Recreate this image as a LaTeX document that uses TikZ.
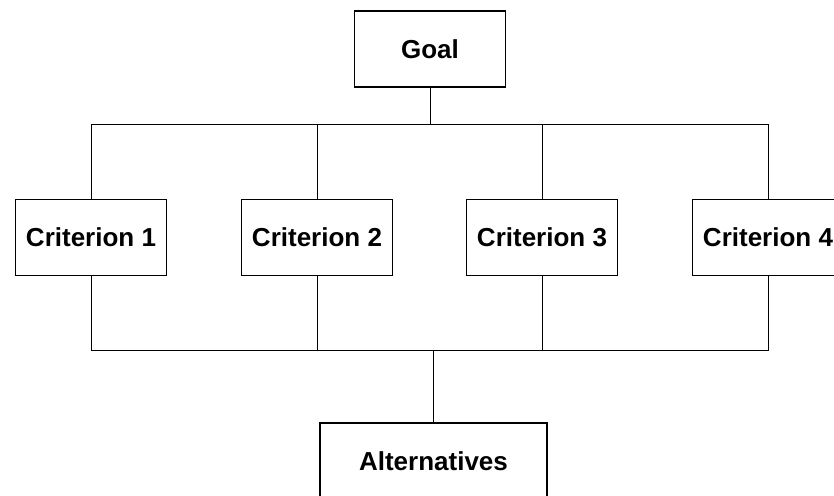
\documentclass[tikz,border=0pt]{standalone}
\usepackage{fontspec}
\setmainfont{Liberation Sans}

\begin{document}
\begin{tikzpicture}
[x=1pt,y=-1pt,
  lineDecorate/.style={-,line width=0.7pt},%
  boxDecorate/.style={shape=rectangle,draw,line width=1.2pt,fill=white,inner sep=0pt,
    minimum width=151pt,minimum height=76pt,font=\bfseries\fontsize{26}{30}\selectfont}]
\clip (0,0) rectangle (834,495);
%% boxes
\node (goal) at (430,49) [boxDecorate] {Goal};
\foreach \nodename/\x/\num in {
  crit1/91/1, crit2/317/2, crit3/542/3, crit4/768/4}
{
  \node (\nodename) at (\x,237.5) [boxDecorate] {Criterion \num};
}
\node (alt) at (433.5,461) [boxDecorate,minimum width=227pt] {Alternatives};
%% buses
\coordinate (topbus) at (0,124);
\coordinate (botbus) at (0,350);
\draw[lineDecorate] (crit1.north) -- (crit1.north |- topbus) -- (crit4.north |- topbus) -- (crit4.north);
\draw[lineDecorate] (crit1.south) -- (crit1.south |- botbus) -- (crit4.south |- botbus) -- (crit4.south);
%% branches
\path
\foreach \startnode/\bus in {goal.south/topbus, crit2.north/topbus, crit3.north/topbus,
  crit2.south/botbus, crit3.south/botbus, alt.north/botbus}
{
  (\startnode) edge[lineDecorate] (\startnode |- \bus)
};
\end{tikzpicture}
\end{document}
